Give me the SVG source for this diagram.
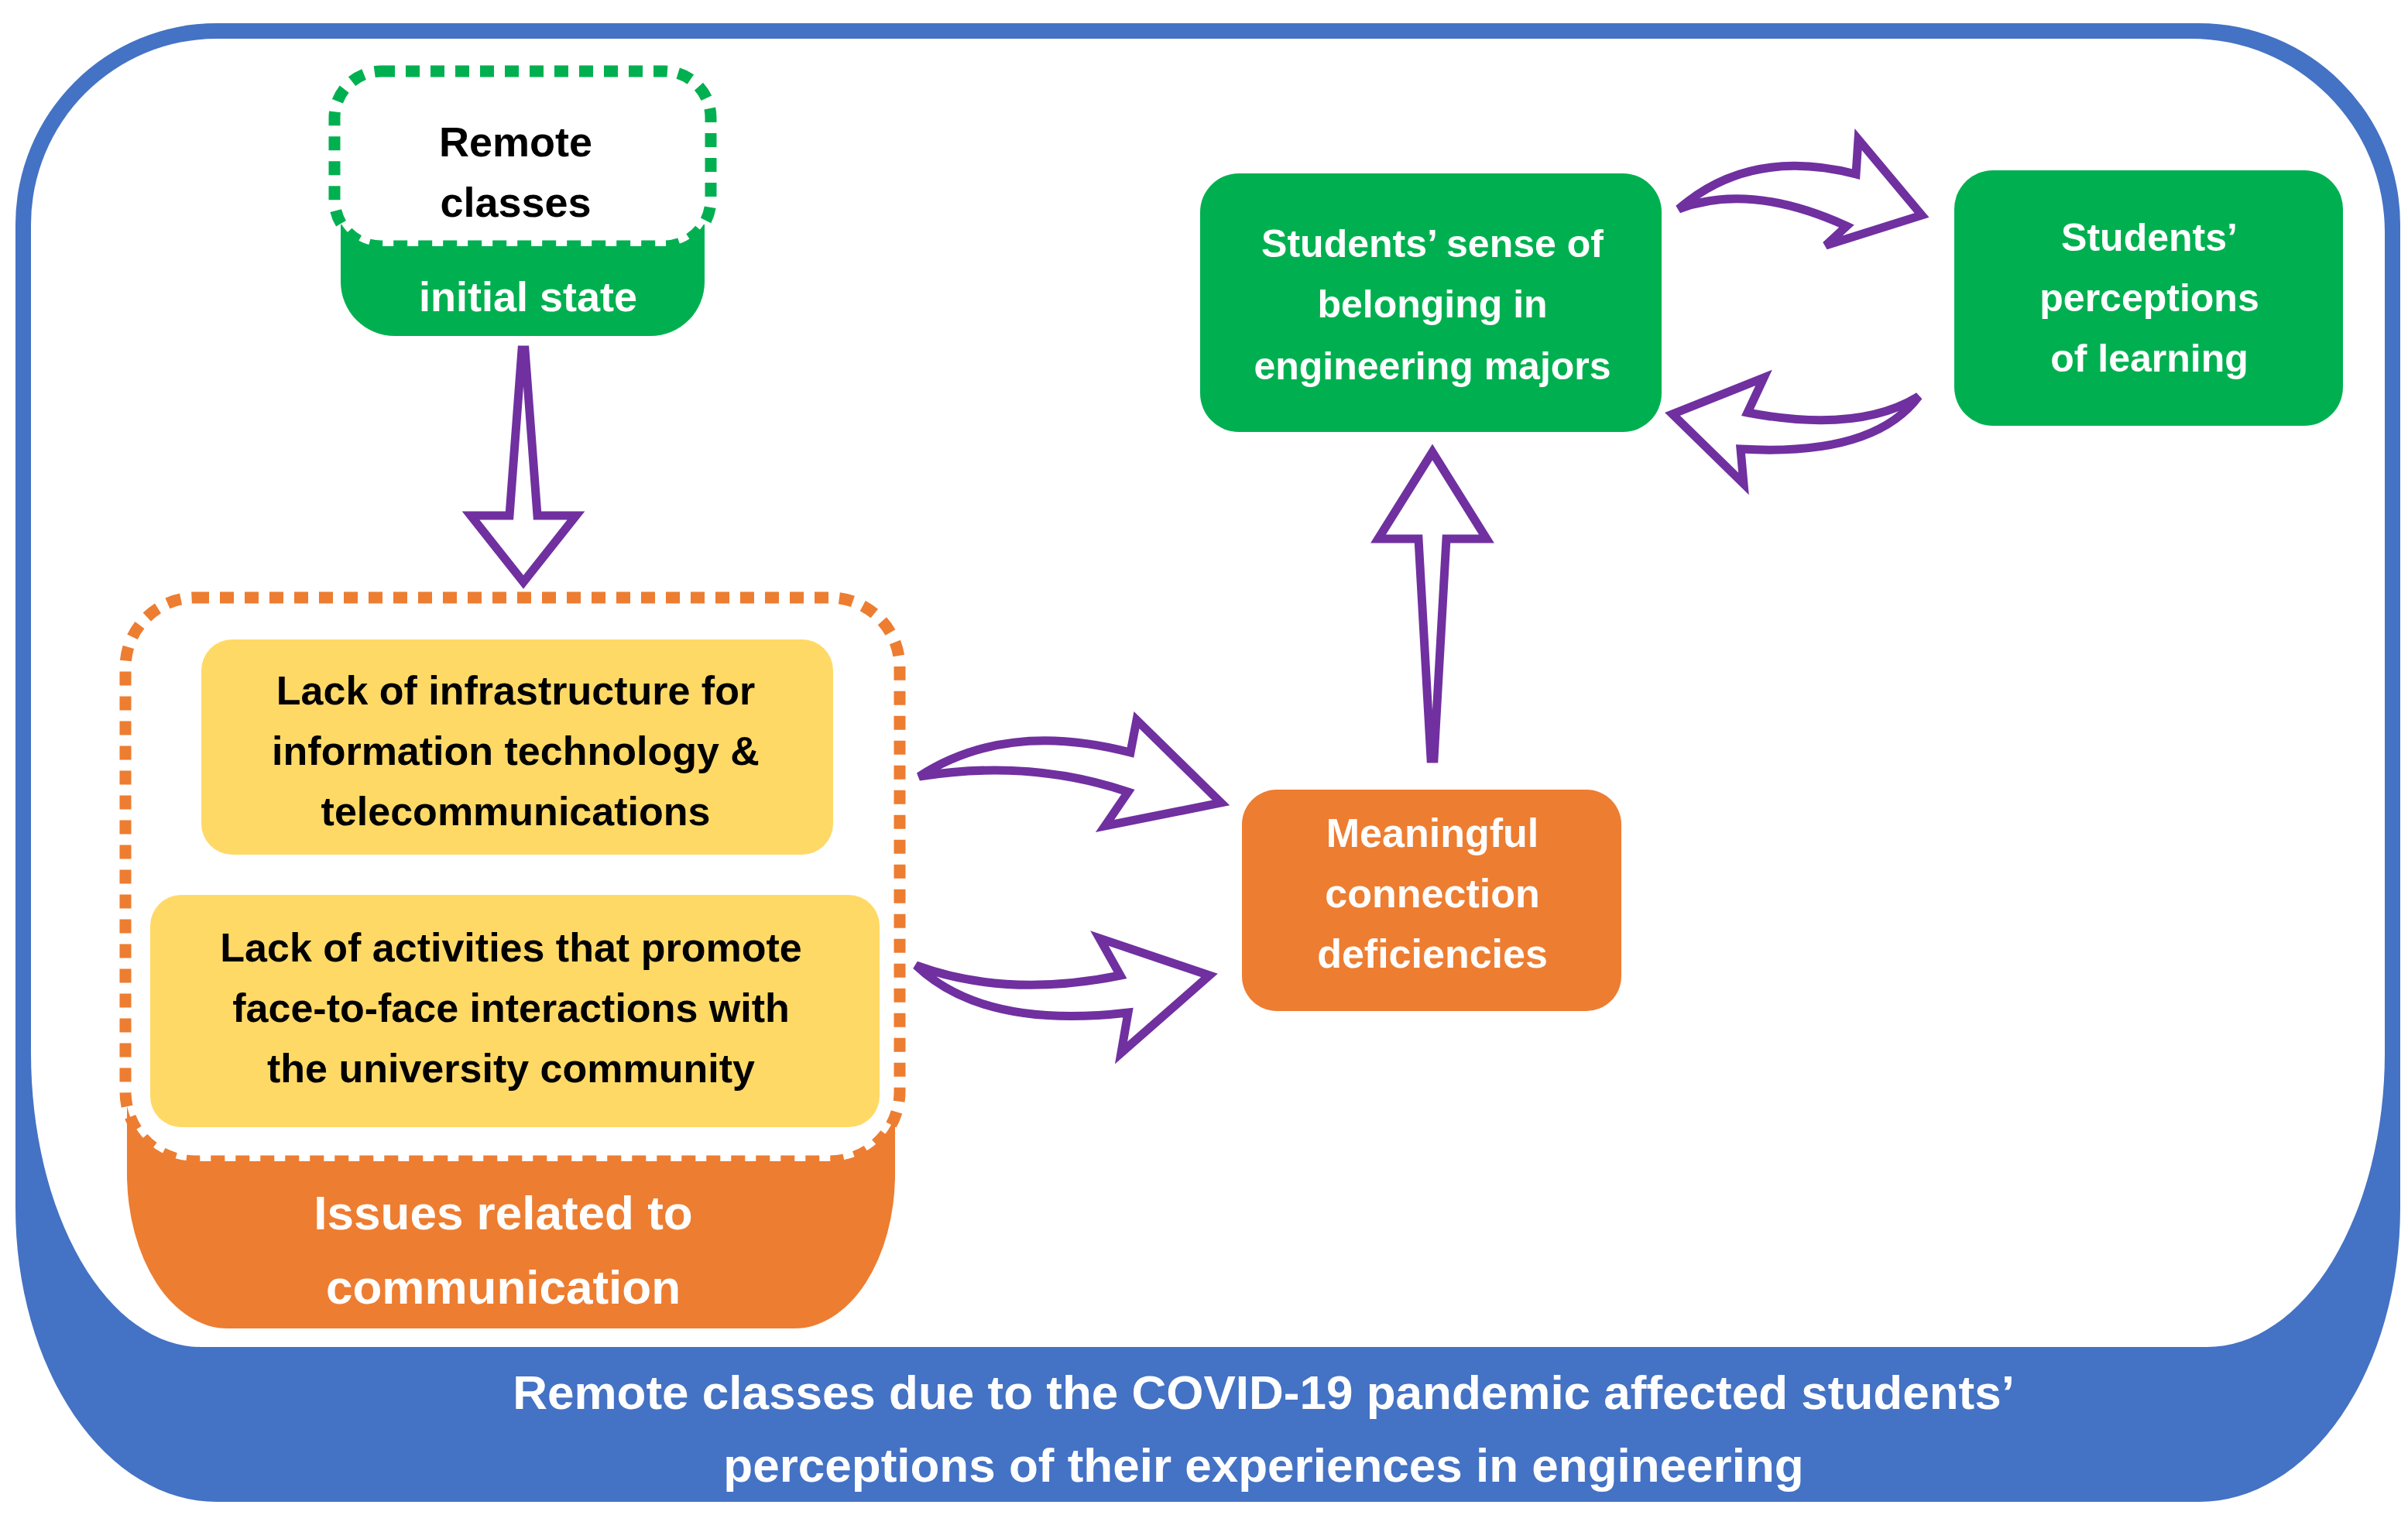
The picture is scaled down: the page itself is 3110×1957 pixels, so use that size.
<svg xmlns="http://www.w3.org/2000/svg" width="3110" height="1957" viewBox="0 0 3110 1957">
<style>
text{font-family:"Liberation Sans",Arial,sans-serif;font-weight:bold;text-anchor:middle}
.w{fill:#fff}.k{fill:#000}
.arr{fill:#fff;stroke:#7030A0;stroke-width:11;stroke-linejoin:miter}
</style>
<rect width="3110" height="1957" fill="#fff"/>
<g id="frame">
<path d="M280,30 H2840 A260,260 0 0 1 3100,290 V1560 A260,380 0 0 1 2840,1940 H280 A260,380 0 0 1 20,1560 V290 A260,260 0 0 1 280,30 Z" fill="#4472C4"/>
<path d="M280,50 H2830 A250,250 0 0 1 3080,300 V1360 A230,380 0 0 1 2850,1740 H260 A220,380 0 0 1 40,1360 V290 A240,240 0 0 1 280,50 Z" fill="#fff"/>
<text class="w" x="1632" y="1820" font-size="62">Remote classes due to the COVID-19 pandemic affected students’</text>
<text class="w" x="1632" y="1914" font-size="62">perceptions of their experiences in engineering</text>
</g>
<g id="remote">
<path d="M440,290 H910 V364 A70,70 0 0 1 840,434 H510 A70,70 0 0 1 440,364 Z" fill="#00B050"/>
<rect x="432" y="92" width="486" height="226" rx="60" fill="#fff" stroke="#00B050" stroke-width="15" stroke-dasharray="18 14"/>
<text class="k" x="666" y="202" font-size="54">Remote</text>
<text class="k" x="666" y="280" font-size="54">classes</text>
<text class="w" x="682" y="402" font-size="54">initial state</text>
</g>
<g id="issues">
<path d="M164,1420 H1156 V1516 A130,200 0 0 1 1026,1716 H294 A130,200 0 0 1 164,1516 Z" fill="#ED7D31"/>
<rect x="162" y="772" width="1000" height="728" rx="90" fill="#fff" stroke="#ED7D31" stroke-width="15" stroke-dasharray="18 14"/>
<text class="w" x="650" y="1588" font-size="62">Issues related to</text>
<text class="w" x="650" y="1684" font-size="62">communication</text>
</g>
<g id="infra">
<rect x="260" y="826" width="816" height="278" rx="40" fill="#FFD966"/>
<text class="k" x="666" y="910" font-size="52">Lack of infrastructure for</text>
<text class="k" x="666" y="988" font-size="52">information technology &amp;</text>
<text class="k" x="666" y="1066" font-size="52">telecommunications</text>
</g>
<g id="activities">
<rect x="194" y="1156" width="942" height="300" rx="40" fill="#FFD966"/>
<text class="k" x="660" y="1242" font-size="52">Lack of activities that promote</text>
<text class="k" x="660" y="1320" font-size="52">face-to-face interactions with</text>
<text class="k" x="660" y="1398" font-size="52">the university community</text>
</g>
<g id="meaningful">
<rect x="1604" y="1020" width="490" height="286" rx="45" fill="#ED7D31"/>
<text class="w" x="1850" y="1094" font-size="52">Meaningful</text>
<text class="w" x="1850" y="1172" font-size="52">connection</text>
<text class="w" x="1850" y="1250" font-size="52">deficiencies</text>
</g>
<g id="belonging">
<rect x="1550" y="224" width="596" height="334" rx="50" fill="#00B050"/>
<text class="w" x="1850" y="332" font-size="50">Students’ sense of</text>
<text class="w" x="1850" y="410" font-size="50">belonging in</text>
<text class="w" x="1850" y="490" font-size="50">engineering majors</text>
</g>
<g id="perceptions">
<rect x="2524" y="220" width="502" height="330" rx="50" fill="#00B050"/>
<text class="w" x="2776" y="324" font-size="50">Students’</text>
<text class="w" x="2776" y="402" font-size="50">perceptions</text>
<text class="w" x="2776" y="480" font-size="50">of learning</text>
</g>
<g id="connectors">
<path class="arr" d="M674,452 L678,452 L694,666 L744,666 L676,752 L608,666 L658,666 Z"/>
<path class="arr" d="M1848,980 L1852,980 L1868,696 L1920,696 L1850,584 L1780,696 L1832,696 Z"/>
<path class="arr" d="M1187,1003 Q1300,930 1460,972 L1468,930 L1577,1037 L1427,1067 L1457,1023 Q1330,980 1187,1003 Z"/>
<path class="arr" d="M1183,1247 Q1300,1290 1447,1260 L1420,1212 L1562,1260 L1448,1360 L1457,1308 Q1270,1330 1183,1247 Z"/>
<path class="arr" d="M2168,270 Q2260,190 2397,225 L2400,180 L2482,278 L2358,317 L2385,292 Q2260,235 2168,270 Z"/>
<path class="arr" d="M2478,512 Q2400,560 2257,533 L2278,488 L2160,535 L2252,625 L2248,580 Q2420,590 2478,512 Z"/>
</g>
</svg>
